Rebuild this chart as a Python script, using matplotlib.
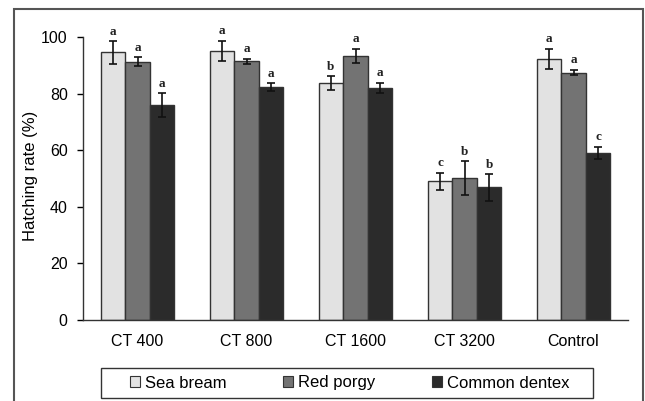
import matplotlib
matplotlib.use("Agg")
import matplotlib.pyplot as plt
import numpy as np
from matplotlib.patches import Rectangle, Patch

categories = ["CT 400", "CT 800", "CT 1600", "CT 3200", "Control"]
series = ["Sea bream", "Red porgy", "Common dentex"]
sea_bream = [94.6, 95.1, 83.6, 49.1, 92.2]
red_porgy = [91.3, 91.4, 93.3, 50.1, 87.4]
common_dentex = [76.0, 82.2, 82.1, 46.9, 59.1]
sea_bream_err = [4.0, 3.6, 2.5, 3.0, 3.6]
red_porgy_err = [1.5, 1.0, 2.6, 6.0, 1.0]
common_dentex_err = [4.2, 1.4, 1.8, 4.7, 2.2]
sea_bream_letters = ["a", "a", "b", "c", "a"]
red_porgy_letters = ["a", "a", "a", "b", "a"]
common_dentex_letters = ["a", "a", "a", "b", "c"]
yticks = [0, 20, 40, 60, 80, 100]

colors = ["#e2e2e2", "#737373", "#2b2b2b"]

plt.rcParams["font.family"] = ["Liberation Sans", "DejaVu Sans"]

fig = plt.figure(figsize=(6.45, 4.01), dpi=100)
W, H = 645, 401
ax = fig.add_axes([83 / W, 1 - 320 / H, (628 - 83) / W, (320 - 37) / H])

x = np.arange(len(categories))
bw = 0.225
vals = [sea_bream, red_porgy, common_dentex]
errs = [sea_bream_err, red_porgy_err, common_dentex_err]
lets = [sea_bream_letters, red_porgy_letters, common_dentex_letters]
for i in range(3):
    pos = x + (i - 1) * bw
    ax.bar(pos, vals[i], width=bw, color=colors[i], edgecolor="#333333",
           linewidth=1.0, zorder=2)
    ax.errorbar(pos, vals[i], yerr=errs[i], fmt="none", ecolor="#111111",
                elinewidth=1.2, capsize=3, capthick=1.2, zorder=3)
    for p, v, e, l in zip(pos, vals[i], errs[i], lets[i]):
        ax.text(p, v + e + 1.2, l, ha="center", va="bottom", fontsize=9.5,
                family=["Liberation Serif", "DejaVu Serif"], fontweight="bold",
                color="#222222", clip_on=False)

ax.set_xlim(-0.5, 4.5)
ax.set_ylim(0, 100)
ax.set_yticks(yticks)
ax.set_xticks(x)
ax.set_xticklabels(categories, fontsize=11.5)
ax.tick_params(axis="x", length=0, pad=10)
ax.tick_params(axis="y", length=4, width=1, pad=7, labelsize=11.5, direction="out")
ax.spines["top"].set_visible(False)
ax.spines["right"].set_visible(False)
for s in ["left", "bottom"]:
    ax.spines[s].set_color("#333333")
    ax.spines[s].set_linewidth(1.0)
ax.set_ylabel("Hatching rate (%)", fontsize=12)
ax.yaxis.set_label_coords(-0.083, 0.509)

handles = [Patch(facecolor=colors[i], edgecolor="#333333", linewidth=0.8) for i in range(3)]
leg = fig.legend(handles, series, loc="center",
                 bbox_to_anchor=(349.5 / W, 1 - 383 / H),
                 ncol=3, fontsize=12, frameon=False,
                 handlelength=0.6, handleheight=0.6, handletextpad=0.3,
                 columnspacing=3.4, borderpad=0.2)
# legend frame
fig.patches.append(Rectangle((101 / W, 1 - 398 / H), (593 - 101) / W, 30 / H,
                             transform=fig.transFigure, fill=False,
                             edgecolor="#333333", linewidth=1.0))

# outer frame
fig.patches.append(Rectangle((14 / W, -0.05), (643 - 14) / W, 1.05 - 9 / H,
                             transform=fig.transFigure, fill=False,
                             edgecolor="#555555", linewidth=1.5))

fig.savefig("out.png", dpi=100)
